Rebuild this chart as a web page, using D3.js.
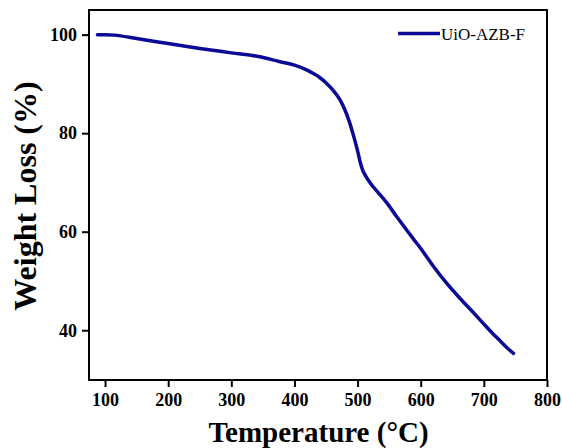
<!DOCTYPE html>
<html><head><meta charset="utf-8">
<script src="https://cdn.jsdelivr.net/npm/d3@7"></script>
<style>body{margin:0;background:#fff;} text{font-family:"Liberation Serif","Times New Roman",serif;}</style>
</head><body><svg id="c" width="562" height="448"></svg>
<script>
const temperature = [88, 100, 115, 150, 200, 250, 300, 345, 377, 400, 420, 430, 440, 451, 460, 472, 480, 487, 494, 500, 504, 508, 512, 520, 535, 546, 560, 575, 588, 600, 620, 640, 662, 684, 699, 712, 726, 737, 747];
const weight      = [100, 100, 99.9, 99.2, 98.2, 97.2, 96.3, 95.5, 94.5, 93.8, 92.8, 92.1, 91.3, 90.1, 88.9, 86.8, 84.7, 82.3, 79.3, 76.4, 74.2, 72.5, 71.5, 69.9, 67.6, 65.9, 63.4, 60.8, 58.6, 56.6, 53.0, 49.7, 46.5, 43.5, 41.4, 39.6, 37.8, 36.4, 35.3];
const xTicks = [100, 200, 300, 400, 500, 600, 700, 800];
const yTicks = [40, 60, 80, 100];
const seriesName = "UiO-AZB-F";

const svg = d3.select("#c");
const L = 89, R = 547, T = 10, B = 380;
const x = d3.scaleLinear().domain([74.6, 800]).range([L, R]);
const y = d3.scaleLinear().domain([29.9, 105]).range([B, T]);

// frame
svg.append("rect").attr("x", L).attr("y", T).attr("width", R - L).attr("height", B - T)
  .attr("fill", "none").attr("stroke", "#000").attr("stroke-width", 2);

const xa = svg.append("g").attr("transform", `translate(0,${B})`)
  .call(d3.axisBottom(x).tickValues(xTicks).tickSize(7).tickSizeOuter(0).tickPadding(6));
const ya = svg.append("g").attr("transform", `translate(${L},0)`)
  .call(d3.axisLeft(y).tickValues(yTicks).tickSize(7).tickSizeOuter(0).tickPadding(5));
[xa, ya].forEach(a => {
  a.select(".domain").remove();
  a.selectAll("line").attr("stroke", "#000").attr("stroke-width", 2);
  a.selectAll("text").attr("fill", "#000").attr("font-size", 18).attr("font-weight", "bold")
    .attr("font-family", "'Liberation Serif', serif");
});

const line = d3.line().x((d, i) => x(temperature[i])).y(d => y(d)).curve(d3.curveMonotoneX);
svg.append("path").datum(weight).attr("d", line).attr("fill", "none")
  .attr("stroke", "#0a0a96").attr("stroke-width", 3.5).attr("stroke-linecap", "round");

// legend
svg.append("line").attr("x1", 398).attr("x2", 440).attr("y1", 33.5).attr("y2", 33.5)
  .attr("stroke", "#0a0a96").attr("stroke-width", 3.5);
svg.append("text").attr("x", 441).attr("y", 39.5).attr("font-size", 17).attr("fill", "#000").text(seriesName);

// titles
svg.append("text").attr("x", 318.5).attr("y", 442).attr("text-anchor", "middle")
  .attr("font-size", 29).attr("font-weight", "bold").attr("fill", "#000").text("Temperature (°C)");
svg.append("text").attr("transform", "translate(36,196) rotate(-90)").attr("text-anchor", "middle")
  .attr("font-size", 32).attr("font-weight", "bold").attr("fill", "#000").text("Weight Loss (%)");
</script></body></html>
